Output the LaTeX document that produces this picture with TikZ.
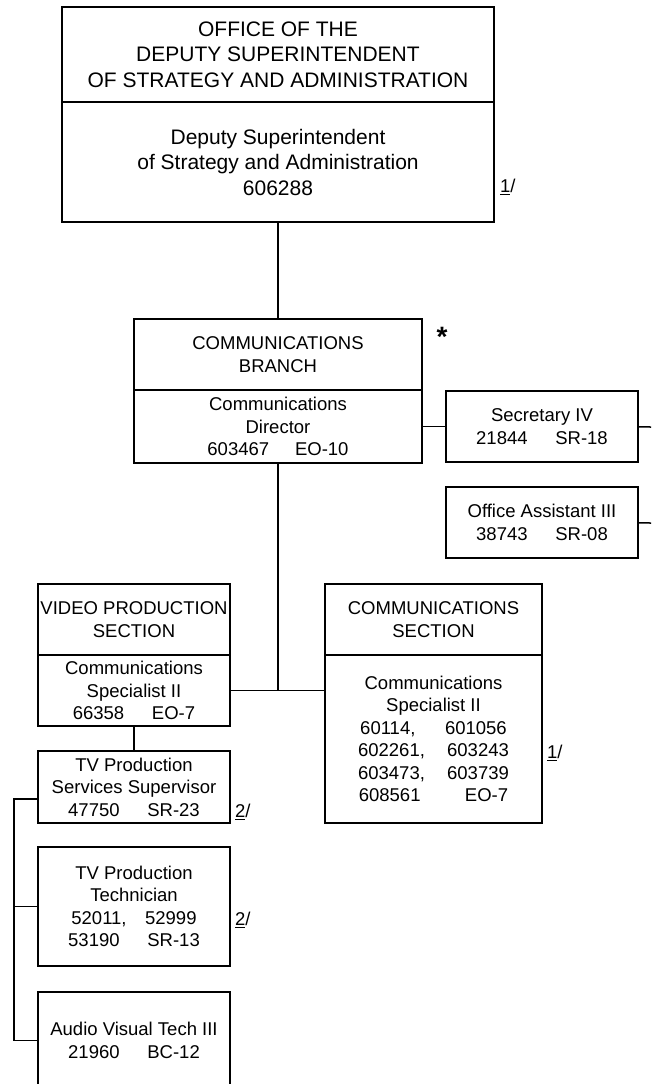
\documentclass[tikz,border=0pt]{standalone}
\usepackage{fontspec}
\setmainfont{Liberation Sans}
\usetikzlibrary{positioning}

\begin{document}
\begin{tikzpicture}[
  x=1pt, y=-1pt,
  box/.style={draw, line width=1.8pt, inner sep=0pt, outer sep=0pt, align=center, font=\fontsize{18.5}{22.5}\selectfont},
  bigbox/.style={box, minimum width=432pt, font=\fontsize{21}{25.5}\selectfont},
  unitbox/.style={box, minimum width=192pt},
  wire/.style={line width=1.5pt},
  note/.style={inner sep=0pt, anchor=west, font=\fontsize{18.5}{22.5}\selectfont}
]

\useasboundingbox (0,0) rectangle (651,1084);
\clip (0,0) rectangle (651,1084);

% Office of the deputy superintendent
\node[bigbox, minimum height=95pt] (office) at (278,54.5) {OFFICE OF THE\\DEPUTY SUPERINTENDENT\\OF STRATEGY AND ADMINISTRATION};
\node[bigbox, minimum height=120pt, below=0pt of office] (deputy) {Deputy Superintendent\\of Strategy and Administration\\606288};
\node[note] (fnDeputy) at (500,187) {\underline{1}/};

% Communications branch
\node[box, minimum width=288pt, minimum height=71pt] (branch) at (278,354.5) {COMMUNICATIONS\\BRANCH};
\node[box, minimum width=288pt, minimum height=73pt, below=0pt of branch] (director) {Communications\\Director\\603467\hspace{1.4em}EO-10};
\node[inner sep=0pt, font=\fontsize{28}{28}\selectfont\bfseries] (star) at (442,337) {*};

% Staff
\node[unitbox, minimum height=71pt] (sec) at (542,426.5) {Secretary IV\\21844\hspace{1.5em}SR-18};
\node[unitbox, minimum height=71pt] (oa) at (542,522.5) {Office Assistant III\\38743\hspace{1.5em}SR-08};
\coordinate (secEnd) at (651,427);
\coordinate (oaEnd) at (651,523);

% Sections
\node[unitbox, minimum height=71pt] (video) at (134,619.5) {VIDEO PRODUCTION\\SECTION};
\node[unitbox, minimum height=71pt, below=0pt of video] (vspec) {Communications\\Specialist II\\66358\hspace{1.5em}EO-7};
\node[box, minimum width=217pt, minimum height=71pt] (csec) at (433.5,619.5) {COMMUNICATIONS\\SECTION};
\node[box, minimum width=217pt, minimum height=168pt, below=0pt of csec] (cspec) {Communications\\Specialist II\\60114,\hspace{1.6em}601056\\602261,\hspace{1.2em}603243\\603473,\hspace{1.2em}603739\\608561\hspace{2.4em}EO-7};
\node[note] (fnSpec) at (547,753) {\underline{1}/};

% Video production staff
\node[unitbox, minimum height=72pt] (tvsup) at (134,787) {TV Production\\Services Supervisor\\47750\hspace{1.5em}SR-23};
\node[note] (fnSup) at (235,812) {\underline{2}/};
\node[unitbox, minimum height=119pt] (tvtech) at (134,906.5) {TV Production\\Technician\\52011,\hspace{1em}52999\\53190\hspace{1.5em}SR-13};
\node[note] (fnTech) at (235,920) {\underline{2}/};
\node[unitbox, minimum height=97pt] (avtech) at (134,1040.5) {Audio Visual Tech III\\21960\hspace{1.5em}BC-12};

% connectors
\draw[wire] (deputy) -- (branch);
\draw[wire] (director) -- (sec);
\draw[wire] (sec) -- (secEnd);
\draw[wire] (oa) -- (oaEnd);
\coordinate (split) at (director.south |- vspec.east);
\draw[wire] (director) -- (split);
\draw[wire] (vspec) -- (split) -- (split -| cspec.west);
\draw[wire] (vspec) -- (tvsup);
\coordinate (busTop) at (14,799);
\draw[wire] (tvsup.west |- busTop) -- (busTop) -- (busTop |- avtech.west) -- (avtech.west);
\draw[wire] (busTop |- tvtech.west) -- (tvtech.west);
\end{tikzpicture}
\end{document}
